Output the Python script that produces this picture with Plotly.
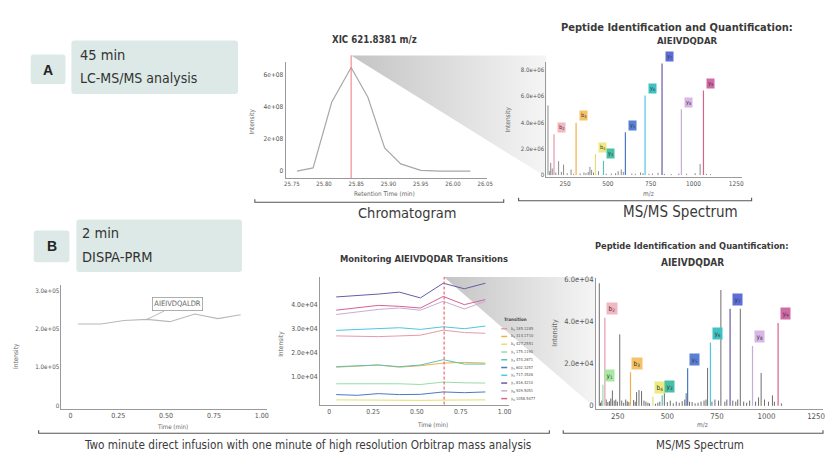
import plotly.graph_objects as go

W, H = 830, 459
COND = "Liberation Sans Narrow, DejaVu Sans Condensed, Arial Narrow, Roboto Condensed, sans-serif"
SANS = "Liberation Sans, Arial, sans-serif"
TXT = "#3a3a3a"
TICK = "#555555"
AXC = "#9a9a9a"

# ---------------- data ----------------
chrom_rt = [25.758, 25.783, 25.812, 25.842, 25.868, 25.894, 25.919, 25.950, 25.980, 26.027]
chrom_int = [0.0, 0.2e8, 4.3e8, 6.45e8, 4.6e8, 1.45e8, 0.45e8, 0.05e8, 0.0, 0.0]
chrom_apex_rt = 25.842

ion_names = ["b2", "b3", "b4", "y1", "y3", "y5", "y6", "y7", "y8", "y9"]
ion_mz = [185.1285, 314.1710, 427.2551, 175.1190, 474.2671, 602.3257, 717.3526, 816.4210, 929.5051, 1058.5477]
ion_colors = ["#e49aae", "#f2b046", "#e4e070", "#98dca8", "#5cc2b4", "#4a78c8", "#4ec8e0", "#6a5aa8", "#c8acd8", "#d8628e"]
ion_label_bg = ["#f4b6c0", "#f6c266", "#eeea82", "#a8e8a4", "#48bfa6", "#5a80d6", "#40c2c4", "#5d6ed6", "#d8b6e6", "#d26aa8"]

top_ion_int = [3.1e6, 3.98e6, 1.6e6, None, 1.1e6, 3.25e6, 6.05e6, 8.48e6, 5.0e6, 6.43e6]
bot_ion_int = [4.17e4, 1.59e4, 0.43e4, 1.0e4, 0.5e4, 1.78e4, 3.0e4, 4.6e4, 2.84e4, 3.93e4]

top_other_mz = [150, 160, 166, 175, 196, 212, 228, 241, 262, 285, 300, 338, 360, 372, 385, 395, 405, 416,
                445, 490, 520, 545, 560, 578, 590, 640, 660, 691, 705, 740, 760, 793, 830, 870, 915, 960,
                1010, 1039, 1075, 1100]
top_other_int = [5.3e6, 0.3e6, 0.93e6, 0.5e6, 0.2e6, 1.05e6, 0.25e6, 0.8e6, 0.15e6, 0.43e6, 0.1e6, 0.12e6,
                 0.2e6, 0.15e6, 0.25e6, 0.63e6, 0.4e6, 0.2e6, 0.3e6, 0.1e6, 0.12e6, 0.15e6, 0.3e6, 0.43e6,
                 0.25e6, 0.12e6, 0.1e6, 0.2e6, 0.15e6, 0.1e6, 0.12e6, 0.18e6, 0.1e6, 0.08e6, 0.12e6, 0.1e6,
                 0.15e6, 0.85e6, 0.1e6, 0.08e6]

bot_other_mz = [157, 163, 170, 192, 200, 208, 215, 223, 232, 240, 248, 260, 270, 280, 290, 298, 306, 330, 338,
                345, 357, 370, 382, 392, 402, 410, 440, 452, 462, 485, 500, 515, 530, 545, 560, 575, 588, 595,
                612, 625, 640, 655, 670, 685, 695, 703, 725, 740, 758, 770, 790, 800, 830, 845, 855, 868, 885,
                900, 915, 945, 960, 973, 990, 1010, 1030, 1040, 1075]
bot_other_int = [5.81e4, 0.15e4, 0.25e4, 0.3e4, 0.18e4, 0.22e4, 0.35e4, 0.73e4, 0.25e4, 0.3e4, 0.2e4, 3.39e4,
                 0.25e4, 0.15e4, 0.3e4, 0.22e4, 0.18e4, 0.28e4, 0.2e4, 0.65e4, 0.75e4, 0.7e4, 0.25e4, 0.2e4,
                 0.15e4, 0.12e4, 0.1e4, 0.15e4, 0.2e4, 0.7e4, 0.18e4, 0.25e4, 0.12e4, 0.2e4, 0.15e4, 0.22e4,
                 0.3e4, 0.6e4, 0.2e4, 0.18e4, 0.12e4, 0.15e4, 0.2e4, 0.25e4, 0.3e4, 1.8e4, 0.2e4, 0.3e4,
                 0.25e4, 5.49e4, 0.2e4, 0.3e4, 0.25e4, 0.2e4, 0.3e4, 4.6e4, 0.2e4, 0.15e4, 0.25e4, 0.2e4,
                 0.4e4, 1.56e4, 0.3e4, 0.2e4, 0.5e4, 0.2e4, 0.12e4]

time_pts = [0.04, 0.16, 0.28, 0.40, 0.52, 0.65, 0.77, 0.89]
dispa_signal = [2.13e5, 2.13e5, 2.22e5, 2.25e5, 2.19e5, 2.39e5, 2.27e5, 2.37e5]
dispa_label = "AIEIVDQALDR"
dispa_label_t = 0.40

transitions = {
    "b2": [2.69e4, 2.66e4, 2.66e4, 2.69e4, 2.72e4, 2.93e4, 2.83e4, 2.80e4],
    "b3": [1.39e4, 1.45e4, 1.48e4, 1.39e4, 1.45e4, 1.56e4, 1.59e4, 1.56e4],
    "b4": [0.03e4, 0.02e4, 0.03e4, 0.02e4, 0.01e4, 0.02e4, 0.02e4, 0.03e4],
    "y1": [0.70e4, 0.70e4, 0.71e4, 0.70e4, 0.67e4, 0.77e4, 0.74e4, 0.73e4],
    "y3": [1.41e4, 1.45e4, 1.48e4, 1.41e4, 1.48e4, 1.70e4, 1.52e4, 1.52e4],
    "y5": [0.25e4, 0.22e4, 0.29e4, 0.25e4, 0.26e4, 0.36e4, 0.33e4, 0.36e4],
    "y6": [2.92e4, 2.96e4, 2.99e4, 3.03e4, 2.96e4, 3.07e4, 2.99e4, 3.10e4],
    "y7": [4.31e4, 4.36e4, 4.43e4, 4.51e4, 4.27e4, 4.88e4, 4.65e4, 4.88e4],
    "y8": [3.58e4, 3.68e4, 3.79e4, 3.85e4, 3.76e4, 4.13e4, 3.81e4, 4.13e4],
    "y9": [3.76e4, 3.85e4, 3.96e4, 3.92e4, 3.85e4, 4.33e4, 3.99e4, 4.20e4],
}
transition_marker_t = 0.655

# ---------------- helpers ----------------
def PX(px):
    return px / W

def PY(py):
    return 1 - py / H

def sticks(mzs, ints):
    xs, ys = [], []
    for m, v in zip(mzs, ints):
        if v is None:
            continue
        xs += [m, m, None]
        ys += [0, v, None]
    return xs, ys

def sub_label(name):
    return f"{name[0]}<sub>{name[1:]}</sub>"

fig = go.Figure()
annotations = []
shapes = []

def ann(text, px, py, size, family=COND, color=TXT, xanchor="center", angle=0, bold=False):
    annotations.append(dict(text=f"<b>{text}</b>" if bold else text, x=PX(px), y=PY(py), xref="paper",
                            yref="paper", showarrow=False, xanchor=xanchor, yanchor="middle",
                            textangle=angle, font=dict(family=family, size=size, color=color)))

def rrect(x0, y0, x1, y1, r, fill):
    pts = [("M", [(x0 + r, y0)]), ("L", [(x1 - r, y0)]), ("Q", [(x1, y0), (x1, y0 + r)]),
           ("L", [(x1, y1 - r)]), ("Q", [(x1, y1), (x1 - r, y1)]), ("L", [(x0 + r, y1)]),
           ("Q", [(x0, y1), (x0, y1 - r)]), ("L", [(x0, y0 + r)]), ("Q", [(x0, y0), (x0 + r, y0)])]
    path = " ".join(c + " " + " ".join(f"{PX(a):.5f},{PY(b):.5f}" for a, b in p) for c, p in pts) + " Z"
    shapes.append(dict(type="path", path=path, xref="paper", yref="paper", fillcolor=fill,
                       line=dict(width=0), layer="below"))

def bracket(x0, x1, y):
    path = (f"M {PX(x0):.5f},{PY(y - 3):.5f} L {PX(x0):.5f},{PY(y):.5f} "
            f"L {PX(x1):.5f},{PY(y):.5f} L {PX(x1):.5f},{PY(y - 3):.5f}")
    shapes.append(dict(type="path", path=path, xref="paper", yref="paper",
                       line=dict(color="#555555", width=1.1)))

# ---------------- gradient wedges (overlay axis in pixel units) ----------------
for xs, ys in [([353, 550, 550, 353], [53, 53, 176, 53]),
               ([446.7, 600, 600, 446.7], [277, 277, 410, 277])]:
    fig.add_trace(go.Scatter(x=xs, y=ys, xaxis="x", yaxis="y", mode="lines", fill="toself",
                             line=dict(width=0, color="rgba(0,0,0,0)"),
                             fillgradient=dict(type="horizontal",
                                               colorscale=[[0, "#c4c4c4"], [1, "#f5f5f5"]]),
                             hoverinfo="skip", showlegend=False))

# ---------------- chromatogram ----------------
fig.add_trace(go.Scatter(x=chrom_rt, y=chrom_int, xaxis="x2", yaxis="y2", mode="lines",
                         line=dict(color="#a8a8a8", width=1.2), showlegend=False))
shapes.append(dict(type="line", xref="x2", yref="paper", x0=chrom_apex_rt, x1=chrom_apex_rt,
                   y0=PY(177), y1=PY(53), line=dict(color="#ee7a7a", width=1)))

# ---------------- top spectrum ----------------
gx, gy = sticks(top_other_mz, top_other_int)
fig.add_trace(go.Scatter(x=gx, y=gy, xaxis="x3", yaxis="y3", mode="lines",
                         line=dict(color="#8c8c8c", width=1), showlegend=False))
for name, mz, col, bg, v in zip(ion_names, ion_mz, ion_colors, ion_label_bg, top_ion_int):
    if v is None:
        continue
    x, y = sticks([mz], [v])
    fig.add_trace(go.Scatter(x=x, y=y, xaxis="x3", yaxis="y3", mode="lines",
                             line=dict(color=col, width=1.2), showlegend=False))
    annotations.append(dict(text=sub_label(name), x=mz, y=v, xref="x3", yref="y3", showarrow=False,
                            xshift=7, yshift=7, bgcolor=bg, borderpad=1,
                            font=dict(family=COND, size=5.5, color="#333")))

# ---------------- DISPA signal ----------------
fig.add_trace(go.Scatter(x=time_pts, y=dispa_signal, xaxis="x4", yaxis="y4", mode="lines",
                         line=dict(color="#b8b8b8", width=1.1), showlegend=False))
annotations.append(dict(text=dispa_label, x=dispa_label_t, y=dispa_signal[time_pts.index(dispa_label_t)],
                        xref="x4", yref="y4", showarrow=True, arrowhead=0, arrowcolor="#aaaaaa",
                        arrowwidth=0.8, ax=31, ay=-15, bordercolor="#9a9a9a", borderwidth=0.8,
                        borderpad=1.5, bgcolor="white",
                        font=dict(family=COND, size=7.5, color="#666")))

# ---------------- transitions ----------------
for name, col in zip(ion_names, ion_colors):
    fig.add_trace(go.Scatter(x=time_pts, y=transitions[name], xaxis="x5", yaxis="y5", mode="lines",
                             line=dict(color=col, width=1), showlegend=False))
shapes.append(dict(type="line", xref="x5", yref="paper", x0=transition_marker_t, x1=transition_marker_t,
                   y0=PY(406), y1=PY(277), line=dict(color="#e05050", width=1, dash="3px,2px")))

# manual mini legend
ann("<b>Transition</b>", 505, 319.5, 4.5, xanchor="left", color="#444")
for i, (name, mz, col) in enumerate(zip(ion_names, ion_mz, ion_colors)):
    yy = 329.3 + i * 7.85
    shapes.append(dict(type="line", xref="paper", yref="paper", x0=PX(504.5), x1=PX(510.5),
                       y0=PY(yy), y1=PY(yy), line=dict(color=col, width=1.5)))
    ann(f"{sub_label(name)} {mz:.4f}", 512, yy, 4, xanchor="left", color="#555")

# ---------------- bottom spectrum ----------------
gx, gy = sticks(bot_other_mz, bot_other_int)
fig.add_trace(go.Scatter(x=gx, y=gy, xaxis="x6", yaxis="y6", mode="lines",
                         line=dict(color="#6e6e6e", width=1), showlegend=False))
for name, mz, col, bg, v in zip(ion_names, ion_mz, ion_colors, ion_label_bg, bot_ion_int):
    x, y = sticks([mz], [v])
    fig.add_trace(go.Scatter(x=x, y=y, xaxis="x6", yaxis="y6", mode="lines",
                             line=dict(color=col, width=1.2), showlegend=False))
    annotations.append(dict(text=sub_label(name), x=mz, y=v, xref="x6", yref="y6", showarrow=False,
                            xshift=7, yshift=9, bgcolor=bg, borderpad=1.5,
                            font=dict(family=COND, size=6.5, color="#333")))

# ---------------- axes ----------------
def axis(dom, rng, tv, tt, anchor, fs):
    return dict(domain=dom, range=rng, tickvals=tv, ticktext=tt, showline=True, linecolor=AXC,
                linewidth=1, showgrid=False, zeroline=False, ticks="", anchor=anchor,
                tickfont=dict(family=COND, size=fs, color=TICK), fixedrange=True)

layout_axes = dict(
    xaxis=dict(domain=[0, 1], range=[0, W], visible=False, fixedrange=True),
    yaxis=dict(domain=[0, 1], range=[H, 0], visible=False, fixedrange=True),
    xaxis2=axis([PX(287), PX(490)], [25.7403, 26.0526], [25.75, 25.80, 25.85, 25.90, 25.95, 26.00, 26.05],
                ["25.75", "25.80", "25.85", "25.90", "25.95", "26.00", "26.05"], "y2", 6),
    yaxis2=axis([PY(177), PY(60)], [-0.43e8, 6.77e8], [0, 2e8, 4e8, 6e8],
                ["0", "2e+08", "4e+08", "6e+08"], "x2", 6.5),
    xaxis3=axis([PX(550), PX(747)], [140.5, 1282], [250, 500, 750, 1000, 1250],
                ["250", "500", "750", "1000", "1250"], "y3", 6.5),
    yaxis3=axis([PY(176), PY(60)], [-0.15e6, 8.57e6], [0, 2e6, 4e6, 6e6, 8e6],
                ["0", "2.0e+06", "4.0e+06", "6.0e+06", "8.0e+06"], "x3", 6),
    xaxis4=axis([PX(61), PX(268)], [-0.0466, 1.026], [0, 0.25, 0.5, 0.75, 1.0],
                ["0", "0.25", "0.50", "0.75", "1.00"], "y4", 7),
    yaxis4=axis([PY(410), PY(285)], [-0.078e5, 3.15e5], [0, 1e5, 2e5, 3e5],
                ["0", "1.0e+05", "2.0e+05", "3.0e+05"], "x4", 6.2),
    xaxis5=axis([PX(321.7), PX(512)], [-0.0525, 1.023], [0, 0.25, 0.5, 0.75, 1.0],
                ["0", "0.25", "0.50", "0.75", "1.00"], "y5", 6.8),
    yaxis5=axis([PY(406), PY(277)], [-0.165e4, 5.14e4], [1e4, 2e4, 3e4, 4e4],
                ["1.0e+04", "2.0e+04", "3.0e+04", "4.0e+04"], "x5", 6.8),
    xaxis6=axis([PX(600), PX(829)], [140, 1285], [250, 500, 750, 1000, 1250],
                ["250", "500", "750", "1000", "1250"], "y6", 7.8),
    yaxis6=axis([PY(410), PY(278)], [-0.126e4, 6.06e4], [0, 2e4, 4e4, 6e4],
                ["0", "2.0e+04", "4.0e+04", "6.0e+04"], "x6", 7.5),
)

# ---------------- panel boxes ----------------
BOX = "#dce9e6"
rrect(30, 52, 65, 82, 3, BOX)
rrect(71, 38, 239, 92, 3, BOX)
rrect(33, 230, 69, 262, 3, BOX)
rrect(76, 219, 243, 272, 3, BOX)
ann("<b>A</b>", 47.5, 67.5, 14, family=SANS, color="#222")
ann("<b>B</b>", 51, 246, 14, family=SANS, color="#222")
ann("45 min", 78, 53, 14.5, xanchor="left", color="#333")
ann("LC-MS/MS analysis", 78, 76, 14, xanchor="left", color="#333")
ann("2 min", 80, 233, 14.5, xanchor="left", color="#333")
ann("DISPA-PRM", 80, 257, 14.5, xanchor="left", color="#333")

# ---------------- titles / labels ----------------
ann("XIC 621.8381 m/z", 377, 37, 9.6, bold=True)
ann("Intensity", 253, 120, 6.5, angle=-90, color="#666")
ann("Retention Time (min)", 387, 193, 6.4, color="#666")
ann("Chromatogram", 410, 212, 14.5)
ann("Peptide Identification and Quantification:", 682, 25, 11, bold=True)
ann("AIEIVDQDAR", 692, 38, 9.5, bold=True)
ann("Intensity", 511, 118, 6.5, angle=-90, color="#666")
ann("m/z", 653, 193, 6.5, color="#666")
ann("MS/MS Spectrum", 685, 211, 15)

ann("Intensity", 15, 357, 6.5, angle=-90, color="#666")
ann("Time (min)", 173, 428, 6.2, color="#666")
ann("Monitoring AIEIVDQDAR Transitions", 427, 258, 9.3, bold=True)
ann("Intensity", 283, 345, 6.5, angle=-90, color="#666")
ann("Time (min)", 435, 426, 6.2, color="#666")
ann("Peptide Identification and Quantification:", 697, 245, 9.2, bold=True)
ann("AIEIVDQDAR", 697, 262, 10, bold=True)
ann("Intensity", 559, 333, 7, angle=-90, color="#666")
ann("m/z", 707, 427, 6.5, color="#666")
ann("Two minute direct infusion with one minute of high resolution Orbitrap mass analysis", 309, 447, 11.7)
ann("MS/MS Spectrum", 705, 447, 11.5)

bracket(256, 507, 201.5)
bracket(522, 757, 200)
bracket(38, 553, 435)
bracket(567, 829, 435)

fig.update_layout(width=W, height=H, margin=dict(l=0, r=0, t=0, b=0), paper_bgcolor="white",
                  plot_bgcolor="rgba(0,0,0,0)", showlegend=False, annotations=annotations,
                  shapes=shapes, **layout_axes)

fig.write_html("out.html", config={"displayModeBar": False},
               post_script="document.body.style.margin='0px';")
